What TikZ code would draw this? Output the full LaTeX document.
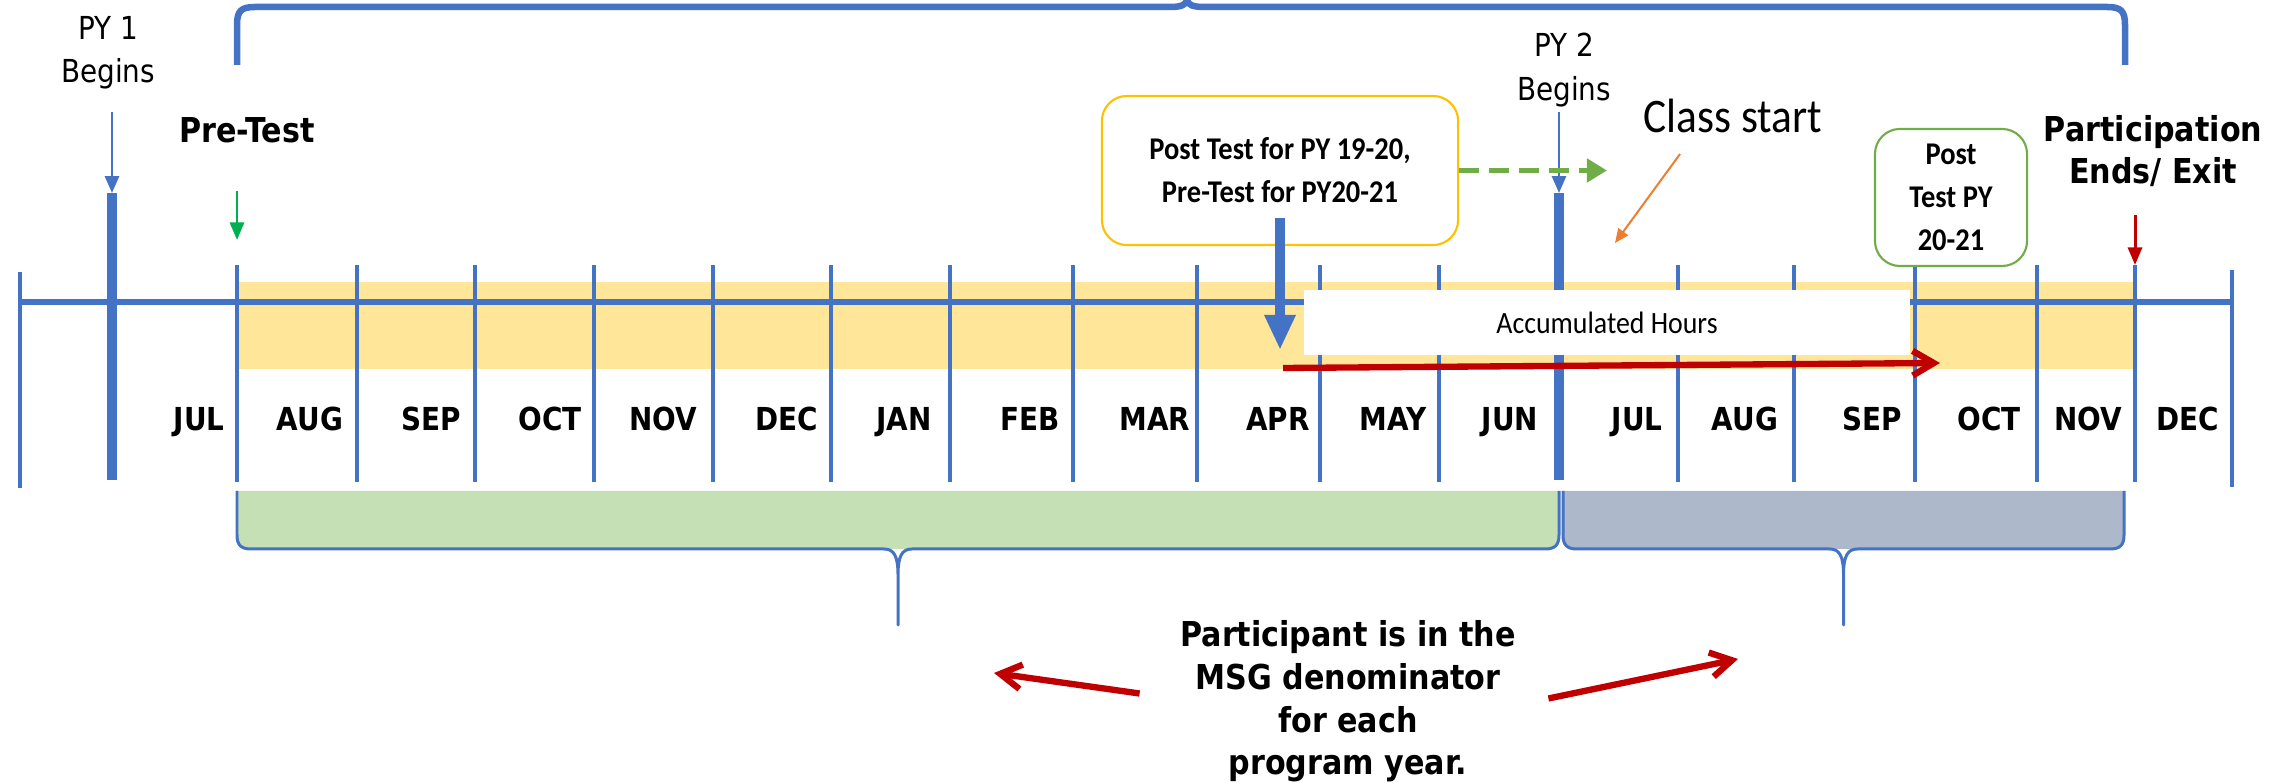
\documentclass[tikz,border=0pt]{standalone}
\usepackage{fontspec}
\setmainfont{DejaVu Sans}[FakeStretch=0.88]
\newfontfamily\narrowfont{Carlito}[FakeStretch=0.9]
\usetikzlibrary{calc,arrows.meta}
\definecolor{tlblue}{HTML}{4472C4}
\definecolor{bandyellow}{HTML}{FFE699}
\definecolor{msggreen}{HTML}{C5E0B4}
\definecolor{msgslate}{HTML}{ADB9CA}
\definecolor{boxgold}{HTML}{FFC000}
\definecolor{boxgreen}{HTML}{70AD47}
\definecolor{testgreen}{HTML}{00B050}
\definecolor{exitred}{HTML}{C00000}
\definecolor{noteorange}{HTML}{ED7D31}

\begin{document}
\begin{tikzpicture}[x=0.01cm,y=-0.01cm,
		axis/.style={tlblue,line width=1.7pt},
		monthtick/.style={tlblue,line width=1.15pt},
		pytick/.style={tlblue,line width=2.6pt},
		month/.style={anchor=base,inner sep=0,font=\fontsize{9}{11}\selectfont\bfseries},
		txt/.style={inner sep=0,align=center},
		thinarrow/.style={tlblue,line width=0.7pt,-{Triangle[width=4pt,length=4.8pt]}},
		downarrow/.style={line width=0.85pt,-{Triangle[width=4pt,length=5pt]}},
		redbarb/.style={exitred,line width=1.8pt,-{Straight Barb[length=6pt,width=7pt]}},
		brace/.style={tlblue,line width=0.85pt,line join=round},
		testbox/.style={rounded corners=0.25cm,line width=0.6pt,align=center,inner sep=0,font=\fontsize{9}{12.2}\selectfont\narrowfont\bfseries}]
	\useasboundingbox (0,0) rectangle (2285,783);

	\fill[bandyellow] (237,282) rectangle (2133,369);
	\draw[axis] (20,302) -- (2232,302);
	\foreach \x in {237,357,475,594,713,831,950,1073,1197,1320,1439,1678,1794,1915,2037,2135}{
		\draw[monthtick] (\x,265) -- (\x,482);
	}
	\draw[monthtick] (20,272) -- (20,488);
	\draw[monthtick] (2232,270) -- (2232,487);
	\draw[pytick] (112,193) -- (112,480);
	\draw[pytick] (1559,193) -- (1559,480);
	\foreach \x/\m in {199/JUL,310/AUG,431/SEP,550/OCT,663/NOV,787/DEC,904/JAN,1030/FEB,1155/MAR,1278/APR,1393/MAY,1510/JUN,1637/JUL,1745/AUG,1872/SEP,1989/OCT,2088/NOV,2188/DEC}{
		\node[month] at (\x,431) {\m};
	}

	\node[fill=white,minimum width=6.06cm,minimum height=0.65cm,inner sep=0,font=\fontsize{8.8}{10}\selectfont\narrowfont] (acc) at (1607,322.5) {Accumulated Hours};

	\draw[tlblue,line width=1.85pt] (237,65) -- (237,25) .. controls (237,11) and (241,7) .. (255,7) -- (1170,7) .. controls (1181,7) and (1186,5) .. (1187,0) .. controls (1188,5) and (1193,7) .. (1204,7) -- (2107,7) .. controls (2121,7) and (2125,11) .. (2125,25) -- (2125,65);

	\foreach \xa/\xb/\col in {237/1559/msggreen,1563/2124/msgslate}{
		\pgfmathsetmacro{\xm}{(\xa+\xb)/2}
		\fill[fill=\col] (\xa,491) -- (\xa,535) .. controls (\xa,545) and (\xa+4,549) .. (\xa+14,549) -- (\xb-14,549) .. controls (\xb-4,549) and (\xb,545) .. (\xb,535) -- (\xb,491) -- cycle;
		\draw[brace] (\xa,491) -- (\xa,535) .. controls (\xa,545) and (\xa+4,549) .. (\xa+14,549) -- (\xm-14,549) .. controls (\xm-4,549) and (\xm,556) .. (\xm,575) -- (\xm,625) -- (\xm,575) .. controls (\xm,556) and (\xm+4,549) .. (\xm+14,549) -- (\xb-14,549) .. controls (\xb-4,549) and (\xb,545) .. (\xb,535) -- (\xb,491);
	}

	\node[txt,font=\fontsize{9}{12.3}\selectfont] (py1) at (108,53) {PY 1\\Begins};
	\node[txt,font=\fontsize{9}{12.3}\selectfont] (py2) at (1564,70) {PY 2\\Begins};
	\node[anchor=base,inner sep=0,font=\fontsize{9.75}{12}\selectfont\bfseries] (pretest) at (247,143) {Pre-Test};
	\node[anchor=base,inner sep=0,font=\fontsize{13.7}{16}\selectfont\narrowfont] (classstart) at (1733,133) {Class start};
	\node[txt,font=\fontsize{9.75}{12}\selectfont\bfseries] (partend) at (2153,151) {Participation\\Ends/ Exit};
	\node[testbox,draw=boxgold,minimum width=3.56cm,minimum height=1.49cm] (postA) at (1280,170.5) {Post Test for PY 19-20,\\Pre-Test for PY20-21};
	\node[testbox,draw=boxgreen,minimum width=1.52cm,minimum height=1.37cm] (postB) at (1951,197.5) {Post\\Test PY\\20-21};
	\node[txt,font=\fontsize{9.75}{12.15}\selectfont\bfseries] (msg) at (1348,701.5) {Participant is in the\\MSG denominator\\for each\\program year.};

	\coordinate (py1top) at (112,193);
	\coordinate (py2top) at (1559,193);
	\coordinate (pretip) at (237,240);
	\coordinate (exittip) at (2135,265);
	\coordinate (clstip) at (1615,243);
	\coordinate (dashtip) at (1607,170.5);
	\coordinate (bluetip) at (1280,350);
	\coordinate (hrsA) at (1283,368);
	\coordinate (hrsB) at (1940,363);
	\coordinate (lefttip) at (994,673);
	\coordinate (righttip) at (1738,659);

	\draw[thinarrow] ($(py1.south -| py1top)+(0,22)$) -- (py1top);
	\draw[thinarrow] ($(py2.south -| py2top)+(0,5)$) -- (py2top);
	\draw[downarrow,testgreen] ($(pretest.south -| pretip)+(0,47)$) -- (pretip);
	\draw[downarrow,exitred] ($(partend.south -| exittip)+(0,28)$) -- (exittip);
	\draw[noteorange,line width=0.57pt,-{Triangle[width=3.4pt,length=4pt]}] ($(classstart.south)+(-53,20)$) -- (clstip);
	\draw[boxgreen,line width=1.45pt,dash pattern=on 0.2cm off 0.1cm,-{Triangle[width=6.5pt,length=5.7pt]}] (postA.east) -- (dashtip);
	\draw[tlblue,line width=2.6pt,-{Triangle[width=8.3pt,length=10pt]}] ($(postA.south)+(0,-28)$) -- (bluetip);
	\draw[redbarb] (hrsA) -- (hrsB);
	\draw[redbarb] ($(msg.west)+(-40,-8)$) -- (lefttip);
	\draw[redbarb] ($(msg.east)+(32,-3)$) -- (righttip);
\end{tikzpicture}
\end{document}
